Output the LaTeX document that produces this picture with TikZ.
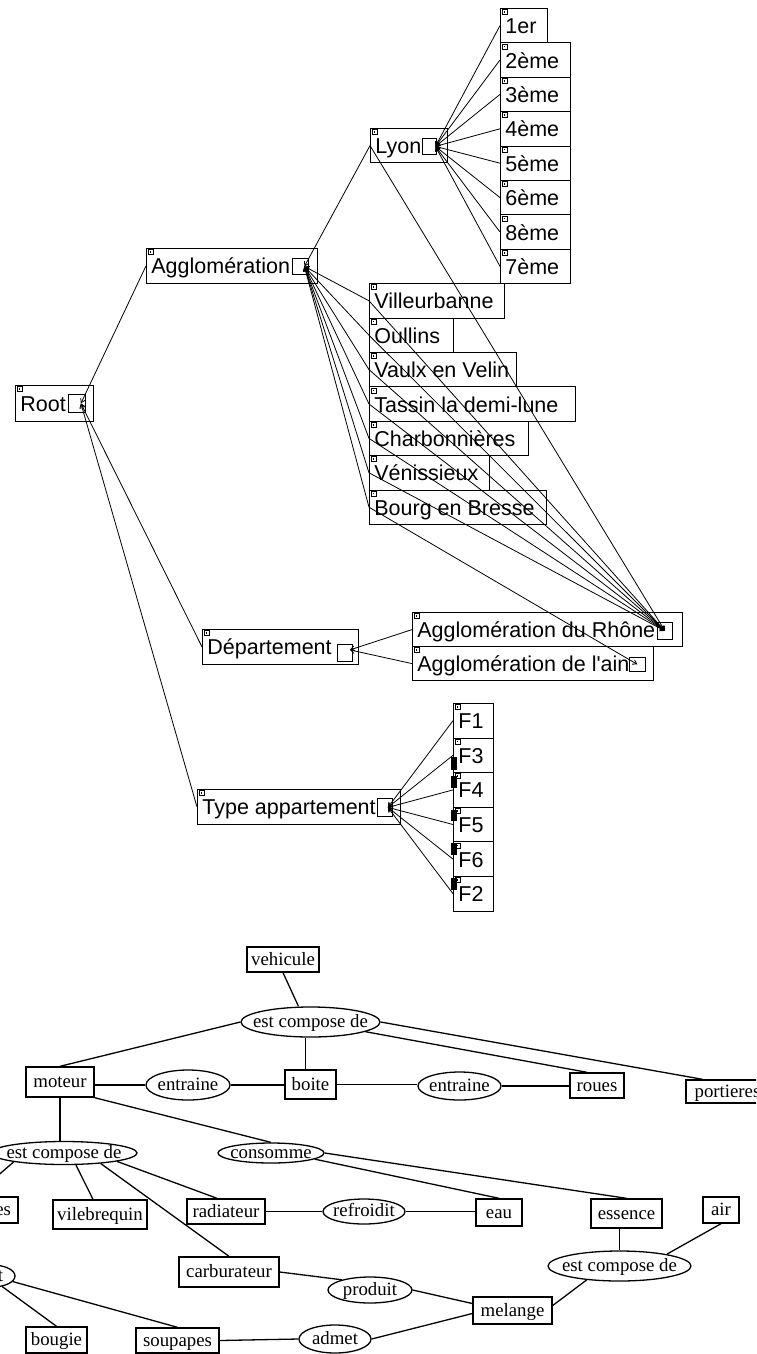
\documentclass[tikz,border=0pt]{standalone}
\usepackage{fontspec}
\setmainfont{Liberation Serif}
\newfontfamily\uifont{Liberation Sans}
\usetikzlibrary{arrows.meta,shapes.geometric,calc}
\newcommand\lbx[2]{\makebox[#1][l]{#2}}
\newcommand\zbx[1]{\makebox[0pt]{#1}}
\begin{document}
\begin{tikzpicture}[x=1pt,y=-1pt,
  tbox/.style={draw, line width=0.8pt, anchor=north west, inner xsep=5pt, inner ysep=0pt,
     text height=17pt, text depth=1pt, minimum height=34.4pt,
     font=\uifont\fontsize{21.5}{24}\selectfont},
  isq/.style={draw, line width=0.8pt, anchor=north west, inner sep=0pt},
  mk/.style={line width=0.6pt},
  pconn/.style={line width=0.8pt, {Straight Barb[length=4pt,width=5pt]}-},
  cconn/.style={line width=0.8pt, -{Straight Barb[length=4pt,width=5pt]}},
  gtxt/.style={inner sep=0pt, text height=10pt, text depth=0pt, font=\fontsize{18.8}{20}\selectfont},
  rbox/.style={draw, line width=1.4pt, rectangle, inner sep=0pt, text height=11pt, text depth=0pt, font=\fontsize{18.8}{20}\selectfont},
  ell/.style={draw, line width=1.3pt, ellipse, inner sep=0pt, text height=10pt, text depth=0pt, font=\fontsize{18.8}{20}\selectfont},
  gconn/.style={line width=1.3pt},
]
\useasboundingbox (0,0) rectangle (756,1354);
\clip (0,0) rectangle (756,1354);
\fill[white] (0,0) rectangle (756,1354);

% ---------- upper hierarchy ----------
\node[tbox, minimum height=36pt] (root) at (15,385) {\lbx{68pt}{Root}};
\node[tbox, minimum height=35pt] (agglo) at (146,248) {\lbx{161pt}{Agglomération}};
\node[tbox] (lyon) at (370,128) {\lbx{67pt}{Lyon}};
\node[tbox] (a1er) at (500,8) {\lbx{37pt}{1er}};
\node[tbox] (a2) at (500,42.4) {\lbx{60pt}{2ème}};
\node[tbox] (a3) at (500,76.8) {\lbx{60pt}{3ème}};
\node[tbox] (a4) at (500,111.2) {\lbx{60pt}{4ème}};
\node[tbox] (a5) at (500,145.6) {\lbx{60pt}{5ème}};
\node[tbox] (a6) at (500,180) {\lbx{60pt}{6ème}};
\node[tbox] (a8) at (500,214.4) {\lbx{60pt}{8ème}};
\node[tbox] (a7) at (500,248.8) {\lbx{60pt}{7ème}};
\node[tbox] (vill) at (369,283.2) {\lbx{125pt}{Villeurbanne}};
\node[tbox] (oull) at (369,317.6) {\lbx{74pt}{Oullins}};
\node[tbox] (vaulx) at (369,352) {\lbx{137pt}{Vaulx en Velin}};
\node[tbox] (tassin) at (369,386.4) {\lbx{196pt}{Tassin la demi-lune}};
\node[tbox] (charb) at (369,420.8) {\lbx{149pt}{Charbonnières}};
\node[tbox] (venis) at (369,455.2) {\lbx{110pt}{Vénissieux}};
\node[tbox] (bourg) at (369,489.6) {\lbx{167pt}{Bourg en Bresse}};
\node[tbox, minimum height=35pt] (dept) at (202,629) {\lbx{146pt}{Département}};
\node[tbox] (rhone) at (412,612) {\lbx{260pt}{Agglomération du Rhône}};
\node[tbox] (ain) at (412,646) {\lbx{231pt}{Agglomération de l'ain}};
\node[tbox, minimum height=35pt] (type) at (197,789) {\lbx{193pt}{Type appartement}};
\node[tbox, minimum height=34.6pt] (f1) at (453,703) {\lbx{30pt}{F1}};
\node[tbox, minimum height=34.6pt] (f3) at (453,737.6) {\lbx{30pt}{F3}};
\node[tbox, minimum height=34.6pt] (f4) at (453,772.2) {\lbx{30pt}{F4}};
\node[tbox, minimum height=34.6pt] (f5) at (453,806.8) {\lbx{30pt}{F5}};
\node[tbox, minimum height=34.6pt] (f6) at (453,841.4) {\lbx{30pt}{F6}};
\node[tbox, minimum height=34.6pt] (f2) at (453,876) {\lbx{30pt}{F2}};

% inner squares
\node[isq, minimum width=17pt, minimum height=18pt] (root-s) at (68,394) {};
\node[isq, minimum width=16pt, minimum height=16pt] (agglo-s) at (292,258) {};
\node[isq, minimum width=14pt, minimum height=16pt] (lyon-s) at (422,138) {};
\node[isq, minimum width=15pt, minimum height=17pt] (dept-s) at (337,644) {};
\node[isq, minimum width=15pt, minimum height=17pt] (rhone-s) at (657,622) {};
\node[isq, minimum width=16pt, minimum height=14pt] (ain-s) at (629,657) {};
\node[isq, minimum width=15pt, minimum height=18pt] (type-s) at (377,798) {};

% corner markers
\foreach \nm in {root,agglo,lyon,a1er,a2,a3,a4,a5,a6,a8,a7,vill,oull,vaulx,tassin,charb,venis,bourg,dept,rhone,ain,type,f1,f3,f4,f5,f6,f2}{
  \draw[mk, fill=white] ($(\nm.north west)+(2,1.5)$) rectangle ++(5,5);
  \fill ($(\nm.north west)+(3.7,3.2)$) rectangle ++(1.6,1.6);
}
\foreach \ya/\yb in {757/770,776/788,810/821,843/855,878/890}
  \fill (451,\ya) rectangle (457,\yb);

% connection points
\coordinate (root-p) at ($(root-s.center)+(4,0)$);
\coordinate (agglo-p) at ($(agglo-s.center)+(4,0)$);
\coordinate (lyon-p) at ($(lyon-s.center)+(6,0)$);
\coordinate (dept-p) at ($(dept-s.center)+(5,-3)$);
\coordinate (type-p) at ($(type-s.center)+(3,0)$);

\foreach \c in {agglo,dept,type} \draw[pconn] (root-p) -- (\c.west);
\foreach \c in {lyon,vill,oull,vaulx,tassin,charb,venis,bourg} \draw[pconn] (agglo-p) -- (\c.west);
\foreach \c in {a1er,a2,a3,a4,a5,a6,a8,a7} \draw[pconn] (lyon-p) -- (\c.west);
\foreach \c in {lyon,vill,oull,vaulx,tassin,charb,venis} \draw[cconn] (\c.west) -- (rhone-s.center);
\draw[cconn] (bourg.west) -- (ain-s.center);
\foreach \c in {rhone,ain} \draw[pconn] (dept-p) -- (\c.west);
\foreach \c in {f1,f3,f4,f5,f6,f2} \draw[pconn] (type-p) -- (\c.west);

% ---------- conceptual graph ----------
\node[rbox, minimum width=72pt, minimum height=25pt] (vehicule) at (283,959.5) {vehicule};
\node[ell, minimum width=139pt, minimum height=30pt] (ecd1) at (310.5,1022) {\zbx{est compose de}};
\node[rbox, minimum width=68pt, minimum height=30pt] (moteur) at (60,1082) {moteur};
\node[ell, minimum width=84pt, minimum height=30pt] (entr1) at (188,1085) {\zbx{entraine}};
\node[rbox, minimum width=51pt, minimum height=29pt] (boite) at (310.5,1084.5) {boite};
\node[ell, minimum width=83pt, minimum height=28pt] (entr2) at (459.5,1086) {\zbx{entraine}};
\node[rbox, minimum width=54pt, minimum height=25pt] (roues) at (597,1085.5) {roues};
\node[rbox, minimum width=83pt, minimum height=23pt] (portieres) at (727.5,1091.5) {portieres};
\node[ell, minimum width=146pt, minimum height=23pt] (ecd2) at (64,1153) {\zbx{est compose de}};
\node[ell, minimum width=106pt, minimum height=20pt] (consomme) at (271,1153) {\zbx{consomme}};
\node[rbox, minimum width=88pt, minimum height=26pt] (es) at (-26,1210) {\makebox[74pt][r]{es}};
\node[rbox, minimum width=94pt, minimum height=29pt] (vilebrequin) at (100,1214.5) {vilebrequin};
\node[rbox, minimum width=78pt, minimum height=25pt] (radiateur) at (226,1211.5) {radiateur};
\node[ell, minimum width=82pt, minimum height=25pt] (refroidit) at (364,1211.5) {\zbx{refroidit}};
\node[rbox, minimum width=46pt, minimum height=27pt] (eau) at (499,1212.5) {eau};
\node[rbox, minimum width=71pt, minimum height=29pt] (essence) at (626.5,1213.5) {essence};
\node[rbox, minimum width=36pt, minimum height=26pt] (air) at (721,1210) {air};
\node[ell, minimum width=143pt, minimum height=30pt] (ecd3) at (619.5,1266) {\zbx{est compose de}};
\node[rbox, minimum width=100pt, minimum height=30pt] (carburateur) at (229,1272) {carburateur};
\node[ell, minimum width=84pt, minimum height=26pt] (produit) at (370,1290) {\zbx{produit}};
\node[rbox, minimum width=79pt, minimum height=27pt] (melange) at (512.5,1310.5) {melange};
\node[ell, minimum width=46pt, minimum height=22pt] (tell) at (-8,1276) {};
\node[gtxt] (tlab) at (0.5,1276) {t};
\node[rbox, minimum width=61pt, minimum height=26pt] (bougie) at (56.5,1340) {bougie};
\node[rbox, minimum width=83pt, minimum height=25pt] (soupapes) at (177.5,1340.5) {soupapes};
\node[ell, minimum width=72pt, minimum height=28pt] (admet) at (335,1339) {\zbx{admet}};

\draw[gconn] (vehicule.south) -- ($(ecd1.north)+(-12,0)$);
\draw[gconn] (ecd1.west) -- (moteur.north);
\draw[gconn] ($(ecd1.south)+(-5,0)$) -- ($(boite.north)+(-5,0)$);
\draw[gconn] (ecd1.-10) -- ($(roues.north)+(-10,0)$);
\draw[gconn] (ecd1.east) -- ($(portieres.north)+(-25,0)$);
\draw[gconn] (moteur.east |- entr1.west) -- (entr1.west);
\draw[gconn] (entr1.east) -- (entr1.east -| boite.west);
\draw[gconn] (boite.east) -- (boite.east -| entr2.west);
\draw[gconn] (entr2.east) -- (entr2.east -| roues.west);
\draw[gconn] (moteur.south) -- (moteur.south |- ecd2.north);
\draw[gconn] (moteur.south east) -- (consomme.north);
\draw[gconn] (consomme.-8) -- (eau.north);
\draw[gconn] (consomme.east) -- (essence.north);
\draw[gconn] (ecd2.190) -- (es.north);
\draw[gconn] ($(ecd2.south)+(12,0)$) -- ($(vilebrequin.north)+(-7,0)$);
\draw[gconn] (ecd2.-16) -- (carburateur.north);
\draw[gconn] (ecd2.-9) -- ($(radiateur.north)+(-9,0)$);
\draw[gconn] (radiateur.east) -- (radiateur.east -| refroidit.west);
\draw[gconn] (refroidit.east) -- (refroidit.east -| eau.west);
\draw[gconn] (carburateur.east) -- (produit.160);
\draw[gconn] (produit.east) -- ($(melange.west)+(0,-7)$);
\draw[gconn] (admet.east) -- ($(melange.west)+(0,3)$);
\draw[gconn] ($(melange.east)+(0,-5)$) -- (ecd3.203);
\draw[gconn] (ecd3.north) -- (ecd3.north |- essence.south);
\draw[gconn] (air.south) -- (ecd3.14);
\draw[gconn] (tell.-46) -- (bougie.north);
\draw[gconn] (tell.-15) -- (soupapes.north);
\draw[gconn] (soupapes.east) -- (admet.west);
\end{tikzpicture}
\end{document}
